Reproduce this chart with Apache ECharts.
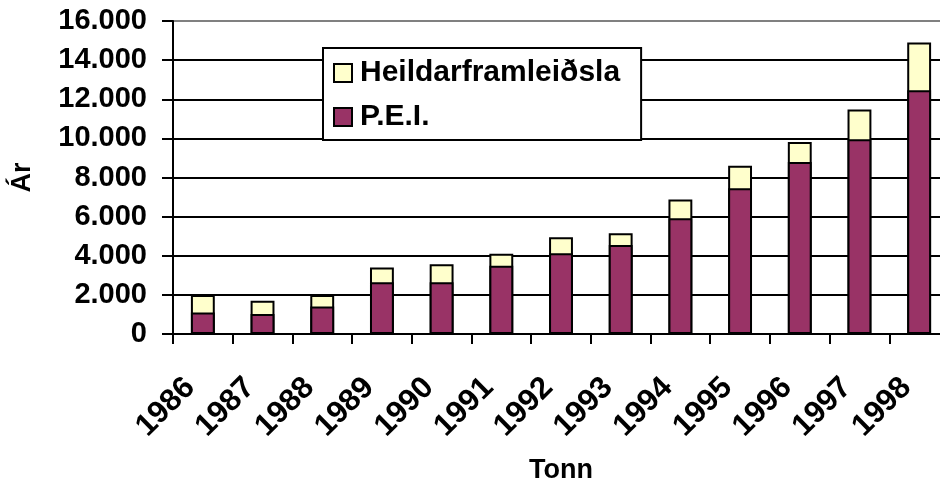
<!DOCTYPE html>
<html>
<head>
<meta charset="utf-8">
<script src="https://cdn.jsdelivr.net/npm/echarts@6/dist/echarts.min.js"></script>
<style>
html,body{margin:0;padding:0;background:#fff;}
#chart{width:940px;height:479px;}
</style>
</head>
<body>
<div id="chart"></div>
<script>
const years = ['1986','1987','1988','1989','1990','1991','1992','1993','1994','1995','1996','1997','1998'];
const heildarframleidsla = [2000, 1700, 2000, 3400, 3570, 4100, 4950, 5150, 6880, 8600, 9810, 11480, 14900];
const pei = [1100, 1020, 1400, 2640, 2640, 3490, 4130, 4550, 5920, 7450, 8790, 9950, 12460];
const seriesNames = ['Heildarframleiðsla', 'P.E.I.'];
const yTickValues = [0, 2000, 4000, 6000, 8000, 10000, 12000, 14000, 16000];

const FONT = 'Liberation Sans, Arial, sans-serif';
const chart = echarts.init(document.getElementById('chart'), null, {renderer: 'canvas'});

function fmt(v) {
  return String(v).replace(/\B(?=(\d{3})+(?!\d))/g, '.');
}

const gridColors = yTickValues.map((v, i) => i === yTickValues.length - 1 ? '#808080' : '#000000');

chart.setOption({
  animation: false,
  backgroundColor: '#ffffff',
  textStyle: {fontFamily: FONT},
  grid: {left: 173, top: 21, right: -9, bottom: 145, containLabel: false, outerBoundsMode: 'none'},
  legend: {
    orient: 'vertical',
    left: 323,
    top: 48,
    padding: [10, 21, 8, 10],
    itemGap: 14,
    itemWidth: 18,
    itemHeight: 18,
    icon: 'rect',
    backgroundColor: '#ffffff',
    borderColor: '#000000',
    borderWidth: 2,
    borderRadius: 0,
    data: seriesNames,
    textStyle: {fontFamily: FONT, fontWeight: 'bold', fontSize: 30, color: '#000', padding: [0, 0, 0, 3]}
  },
  xAxis: {
    type: 'category',
    data: years,
    name: 'Tonn',
    nameLocation: 'middle',
    nameGap: 123,
    nameTextStyle: {fontFamily: FONT, fontWeight: 'bold', fontSize: 27, color: '#000'},
    axisLine: {lineStyle: {color: '#000', width: 2}},
    axisTick: {show: true, length: 10, lineStyle: {color: '#000', width: 2}},
    axisLabel: {
      rotate: 45,
      margin: 36,
      padding: [0, 18, 0, 0],
      interval: 0,
      fontFamily: FONT, fontWeight: 'bold', fontSize: 31, color: '#000'
    }
  },
  yAxis: {
    type: 'value',
    min: 0,
    max: 16000,
    interval: 2000,
    name: 'Ár',
    nameLocation: 'middle',
    nameGap: 137,
    nameTextStyle: {fontFamily: FONT, fontWeight: 'bold', fontSize: 27, color: '#000'},
    axisLine: {show: true, lineStyle: {color: '#000', width: 2}},
    axisTick: {show: true, length: 11, lineStyle: {color: '#000', width: 2}},
    axisLabel: {
      margin: 26,
      formatter: fmt,
      fontFamily: FONT, fontWeight: 'bold', fontSize: 29, color: '#000'
    },
    splitLine: {show: true, lineStyle: {color: gridColors, width: 2}}
  },
  series: [
    {
      name: seriesNames[0],
      type: 'bar',
      data: heildarframleidsla,
      barWidth: '40%',
      barGap: '-100%',
      itemStyle: {color: '#FFFFCC', borderColor: '#000', borderWidth: 2}
    },
    {
      name: seriesNames[1],
      type: 'bar',
      data: pei,
      barWidth: '40%',
      barGap: '-100%',
      itemStyle: {color: '#993366', borderColor: '#000', borderWidth: 2}
    }
  ]
});
</script>
</body>
</html>
